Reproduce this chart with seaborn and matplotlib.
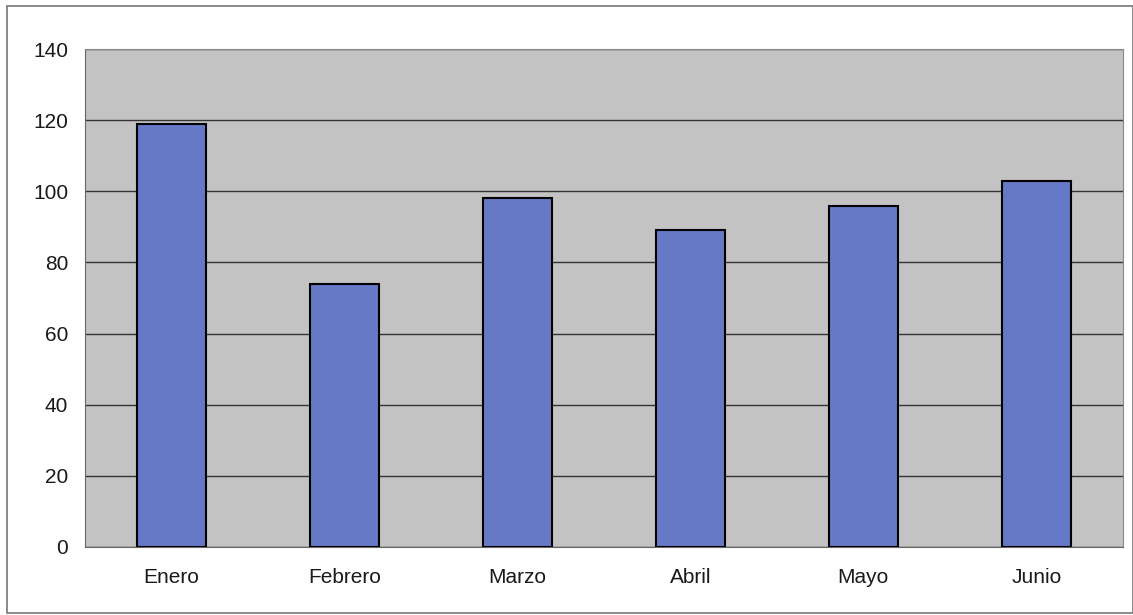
import matplotlib
matplotlib.use("Agg")
import matplotlib.pyplot as plt
import seaborn as sns
import pandas as pd
from matplotlib.patches import Rectangle

# datos del grafico
meses = ["Enero", "Febrero", "Marzo", "Abril", "Mayo", "Junio"]
valores = [119, 74, 98, 89, 96, 103]
y_ticks = [0, 20, 40, 60, 80, 100, 120, 140]

df = pd.DataFrame({"mes": meses, "valor": valores})

sns.set_style("white")
plt.rcParams['font.family'] = ['Liberation Sans', 'DejaVu Sans']

fig = plt.figure(figsize=(11.33, 6.15), dpi=100)
fig.patch.set_facecolor("white")
ax = fig.add_axes([0.075, 0.111, 0.916, 0.809])
ax.set_facecolor("#c3c3c3")

sns.barplot(data=df, x="mes", y="valor", color="#6579c6", width=0.4,
            edgecolor="black", linewidth=1.5, saturation=1, ax=ax, zorder=3)

ax.set_ylim(0, 140)
ax.set_yticks(y_ticks)
ax.set_xlim(-0.5, len(meses) - 0.5)
ax.yaxis.grid(True, color="#333333", linewidth=1, zorder=0)
ax.set_axisbelow(True)
ax.set_xlabel("")
ax.set_ylabel("")

# marcas del eje x en los limites de cada categoria
ax.set_xticks([i - 0.5 for i in range(len(meses) + 1)], minor=True)
ax.tick_params(axis="x", which="minor", length=6, direction="out", color="#666666")
ax.tick_params(axis="x", which="major", length=0, labelsize=15, pad=15, labelcolor="#1a1a1a")
ax.tick_params(axis="y", length=6, direction="out", color="#666666", labelsize=15, pad=6,
               labelcolor="#1a1a1a")

for side in ["left", "bottom"]:
    ax.spines[side].set_color("#666666")
for side in ["top", "right"]:
    ax.spines[side].set_color("#888888")

fig.patches.append(Rectangle((0.006, 0.003), 0.994, 0.987, transform=fig.transFigure,
                             fill=False, edgecolor="#777777", linewidth=1.2))

fig.savefig("out.png", dpi=100)
